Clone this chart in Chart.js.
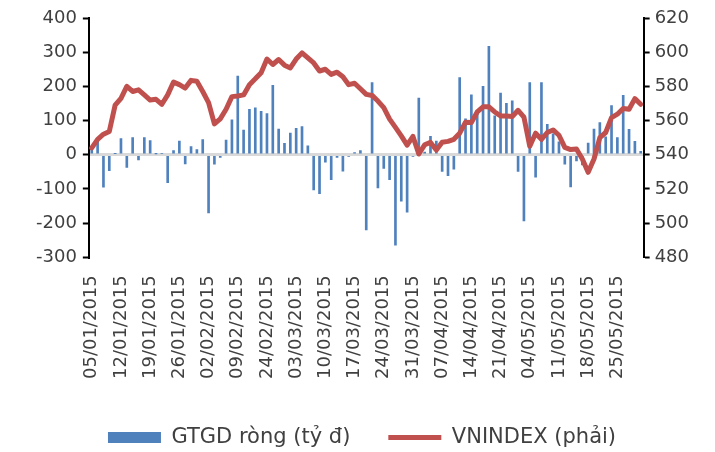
<!DOCTYPE html>
<html>
<head>
<meta charset="utf-8">
<script src="https://cdn.jsdelivr.net/npm/chart.js@4.4.1/dist/chart.umd.min.js"></script>
<style>
  html, body { margin: 0; padding: 0; background: #fff; }
  #wrap { width: 715px; height: 452px; position: relative; }
</style>
</head>
<body>
<div id="wrap"><canvas id="chart"></canvas></div>
<script>
/* ── DATA ─────────────────────────────────────────────── */
const tradingDays = [
    '05/01/2015', '06/01/2015', '07/01/2015', '08/01/2015', '09/01/2015',
    '12/01/2015', '13/01/2015', '14/01/2015', '15/01/2015', '16/01/2015',
    '19/01/2015', '20/01/2015', '21/01/2015', '22/01/2015', '23/01/2015',
    '26/01/2015', '27/01/2015', '28/01/2015', '29/01/2015', '30/01/2015',
    '02/02/2015', '03/02/2015', '04/02/2015', '05/02/2015', '06/02/2015',
    '09/02/2015', '10/02/2015', '11/02/2015', '12/02/2015', '13/02/2015',
    '24/02/2015', '25/02/2015', '26/02/2015', '27/02/2015', '02/03/2015',
    '03/03/2015', '04/03/2015', '05/03/2015', '06/03/2015', '09/03/2015',
    '10/03/2015', '11/03/2015', '12/03/2015', '13/03/2015', '16/03/2015',
    '17/03/2015', '18/03/2015', '19/03/2015', '20/03/2015', '23/03/2015',
    '24/03/2015', '25/03/2015', '26/03/2015', '27/03/2015', '30/03/2015',
    '31/03/2015', '01/04/2015', '02/04/2015', '03/04/2015', '06/04/2015',
    '07/04/2015', '08/04/2015', '09/04/2015', '10/04/2015', '13/04/2015',
    '14/04/2015', '15/04/2015', '16/04/2015', '17/04/2015', '20/04/2015',
    '21/04/2015', '22/04/2015', '23/04/2015', '24/04/2015', '27/04/2015',
    '04/05/2015', '05/05/2015', '06/05/2015', '07/05/2015', '08/05/2015',
    '11/05/2015', '12/05/2015', '13/05/2015', '14/05/2015', '15/05/2015',
    '18/05/2015', '19/05/2015', '20/05/2015', '21/05/2015', '22/05/2015',
    '25/05/2015', '26/05/2015', '27/05/2015', '28/05/2015', '29/05/2015'
];

// GTGD ròng (tỷ đ) – left axis
const netValue = [
    20, 42, -95, -47, 3, 47, -37, 50, -15, 50,
    41, 2, 4, -82, 12, 40, -27, 24, 15, 44,
    -170, -28, -8, 43, 102, 230, 72, 133, 137, 127,
    120, 203, 75, 33, 63, 77, 82, 26, -103, -114,
    -22, -73, -8, -48, -5, 6, 12, -220, 211, -97,
    -40, -73, -265, -136, -168, -5, 166, 8, 54, 40,
    -49, -61, -42, 226, 105, 175, 125, 200, 317, 114,
    180, 150, 158, -49, -194, 211, -66, 211, 89, 61,
    38, -28, -94, -18, -30, 34, 75, 94, 52, 144,
    50, 174, 74, 39, 10
];

// VNINDEX – right axis
const vnIndex = [
    544, 549, 552, 553.6, 569, 573, 580, 577, 578, 575,
    572, 572.4, 569.5, 575, 582.5, 581, 579, 583.5, 583, 577,
    570.5, 558, 561, 566.6, 574, 574.4, 575, 581, 584.4, 588,
    596, 592.8, 595.7, 592.4, 590.8, 596, 599.6, 596.6, 593.7, 589,
    590, 587, 588.3, 585.6, 581, 581.8, 578.6, 575.3, 574.7, 571.4,
    567.5, 560.8, 556, 551, 545.6, 550.7, 540.4, 545.8, 547.2, 542.7,
    547.3, 547.8, 549, 552.6, 559, 558.8, 565, 568, 568, 565,
    562.7, 562.7, 562.3, 566, 562, 545, 552.6, 549, 553, 554.5,
    551.4, 544.3, 543, 543.3, 537.5, 529.7, 537.5, 550, 553, 561.7,
    563.7, 567, 566.6, 572.8, 569.5
];

const seriesNames = ['GTGD ròng (tỷ đ)', 'VNINDEX (phải)'];
const leftTicks = { min: -300, max: 400, step: 100 };
const rightTicks = { min: 480, max: 620, step: 20 };
const labelEvery = 5;

/* ── CHART ────────────────────────────────────────────── */
const FONT = "'DejaVu Sans', sans-serif";
const TXT = '#404040';

new Chart(document.getElementById('chart').getContext('2d'), {
    type: 'bar',
    data: {
        labels: tradingDays,
        datasets: [
            {
                type: 'bar',
                label: seriesNames[0],
                data: netValue,
                yAxisID: 'y',
                backgroundColor: '#4f81bd',
                borderWidth: 0,
                barThickness: 2,
                pointStyle: 'rect',
                order: 1
            },
            {
                type: 'line',
                label: seriesNames[1],
                data: vnIndex,
                yAxisID: 'y1',
                borderColor: '#c0504d',
                backgroundColor: '#c0504d',
                borderWidth: 5,
                pointRadius: 0,
                pointHoverRadius: 0,
                pointStyle: 'line',
                pointBorderColor: '#c0504d',
                pointBorderWidth: 5,
                borderJoinStyle: 'round',
                borderCapStyle: 'round',
                tension: 0,
                order: 0
            }
        ]
    },
    options: {
        responsive: true,
        maintainAspectRatio: false,
        animation: false,
        layout: { padding: { left: 30, right: 21, top: 18, bottom: -6 } },
        plugins: {
            tooltip: { enabled: false },
            legend: {
                position: 'bottom',
                labels: {
                    usePointStyle: true,
                    pointStyleWidth: 53,
                    boxHeight: 11,
                    padding: 38,
                    color: TXT,
                    font: { family: FONT, size: 21 },
                    sort: (a, b) => a.datasetIndex - b.datasetIndex
                }
            }
        },
        scales: {
            x: {
                grid: { display: false },
                border: { display: false },
                ticks: {
                    autoSkip: false,
                    minRotation: 90,
                    maxRotation: 90,
                    padding: 10,
                    color: TXT,
                    font: { family: FONT, size: 18 },
                    callback: (v, i) => (i % labelEvery === 0 ? tradingDays[i] : '')
                }
            },
            y: {
                position: 'left',
                min: leftTicks.min,
                max: leftTicks.max,
                border: { display: true, color: '#000', width: 2 },
                grid: {
                    color: c => (c.tick && c.tick.value === 0 ? '#d9d9d9' : 'rgba(0,0,0,0)'),
                    lineWidth: 3,
                    tickColor: '#000',
                    tickLength: 6,
                    tickWidth: 2
                },
                ticks: {
                    stepSize: leftTicks.step,
                    padding: 6,
                    color: TXT,
                    font: { family: FONT, size: 18 }
                }
            },
            y1: {
                position: 'right',
                min: rightTicks.min,
                max: rightTicks.max,
                border: { display: true, color: '#000', width: 2 },
                grid: {
                    drawOnChartArea: false,
                    tickColor: '#000',
                    tickLength: 6,
                    tickWidth: 2
                },
                ticks: {
                    stepSize: rightTicks.step,
                    padding: 5,
                    color: TXT,
                    font: { family: FONT, size: 18 }
                }
            }
        }
    }
});
</script>
</body>
</html>
